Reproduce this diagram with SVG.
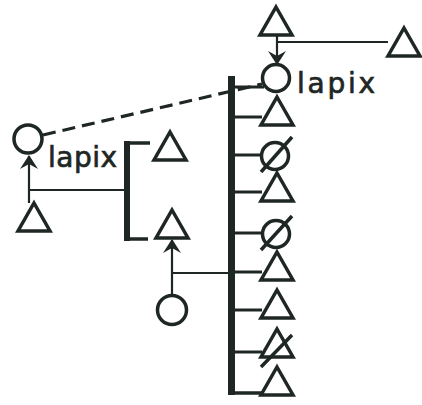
<svg xmlns="http://www.w3.org/2000/svg" width="422" height="405" viewBox="0 0 422 405">
<defs>
<style>
.s{fill:none;stroke:#1e2724;stroke-width:3.5;stroke-linejoin:miter}
.l{fill:none;stroke:#1e2724;stroke-width:2.2}
.t{fill:none;stroke:#1e2724;stroke-width:3}
.bar{fill:#1e2724}
.lbl{font-family:"DejaVu Sans",sans-serif;font-size:28px;fill:#1e2724;stroke:#1e2724;stroke-width:0.7}
</style>
<marker id="ah" viewBox="0 0 14 18" refX="13" refY="9" markerWidth="14" markerHeight="18" markerUnits="userSpaceOnUse" orient="auto">
<path d="M0,0 L14,9 L0,18 L5,9 Z" fill="#1e2724"/>
</marker>
<path id="tri" d="M0,0 L16,28 L-16,28 Z"/>
</defs>
<rect width="422" height="405" fill="#ffffff"/>

<g id="connectors">
<line class="l" x1="277" y1="36" x2="277" y2="64" marker-end="url(#ah)"/>
<line class="l" x1="277" y1="42" x2="388" y2="42"/>
<line class="l" x1="29" y1="203" x2="29" y2="156" marker-end="url(#ah)"/>
<line class="l" x1="29" y1="190" x2="126" y2="190"/>
<line class="l" x1="172" y1="296" x2="172" y2="240" marker-end="url(#ah)"/>
<line class="l" x1="172" y1="273" x2="231" y2="273"/>
<line x1="43" y1="135" x2="262" y2="84" stroke="#1e2724" stroke-width="3.2" stroke-dasharray="13,7"/>
</g>

<g id="main-bar">
<rect class="bar" x="228" y="76" width="7" height="319"/>
<line class="t" x1="231" y1="87" x2="264" y2="87"/>
<line class="t" x1="231" y1="117" x2="262" y2="117"/>
<line class="t" x1="231" y1="155" x2="261" y2="155"/>
<line class="t" x1="231" y1="192" x2="262" y2="192"/>
<line class="t" x1="231" y1="233" x2="262" y2="233"/>
<line class="t" x1="231" y1="272" x2="262" y2="272"/>
<line class="t" x1="231" y1="310" x2="262" y2="310"/>
<line class="t" x1="231" y1="352" x2="262" y2="352"/>
<line class="s" x1="231" y1="393" x2="262" y2="393"/>
</g>

<g id="bracket">
<rect class="bar" x="124" y="141" width="6" height="100"/>
<line class="s" x1="127" y1="143" x2="150" y2="143"/>
<line class="s" x1="127" y1="239" x2="148" y2="239"/>
</g>

<g id="top-tri"><use href="#tri" class="s" x="276" y="7"/></g>
<g id="right-tri"><use href="#tri" class="s" x="404" y="28"/></g>
<g id="top-circle"><circle class="s" cx="276" cy="78" r="13.5"/></g>
<g id="top-label"><text class="lbl" x="297" y="93" textLength="78" lengthAdjust="spacing">lapix</text></g>

<g id="r1"><use href="#tri" class="s" x="277" y="97"/></g>
<g id="r2"><circle class="s" cx="275" cy="156" r="13.5"/><line class="s" x1="261" y1="172" x2="292" y2="137"/></g>
<g id="r3"><use href="#tri" class="s" x="277" y="173"/></g>
<g id="r4"><circle class="s" cx="276" cy="234" r="13.5"/><line class="s" x1="261" y1="250" x2="292" y2="216"/></g>
<g id="r5"><use href="#tri" class="s" x="277" y="252"/></g>
<g id="r6"><use href="#tri" class="s" x="277" y="290"/></g>
<g id="r7"><use href="#tri" class="s" x="277" y="329"/><line class="s" x1="261" y1="367" x2="292" y2="335"/></g>
<g id="r8"><use href="#tri" class="s" x="277" y="367"/></g>

<g id="left-circle"><circle class="s" cx="28" cy="139" r="14"/></g>
<g id="left-label"><text class="lbl" x="48" y="167" textLength="69" lengthAdjust="spacing">lapix</text></g>
<g id="left-tri"><use href="#tri" class="s" x="34" y="203"/></g>
<g id="br-tri1"><use href="#tri" class="s" x="170" y="132"/></g>
<g id="br-tri2"><use href="#tri" class="s" x="172" y="210"/></g>
<g id="bottom-circle"><circle class="s" cx="172" cy="310" r="14.5"/></g>
</svg>
